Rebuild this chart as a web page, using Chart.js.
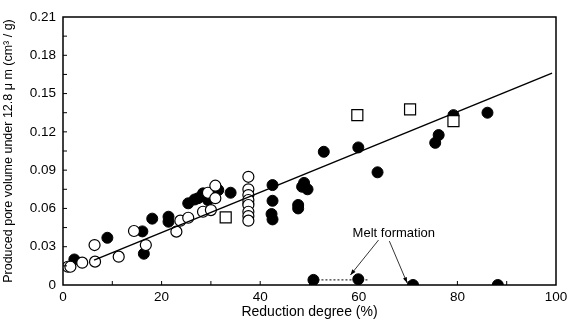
<!DOCTYPE html>
<html>
<head>
<meta charset="utf-8">
<script src="https://cdn.jsdelivr.net/npm/chart.js@4"></script>
<style>
  body { margin: 0; background: #fff; }
  #wrap { width: 568px; height: 325px; }
</style>
</head>
<body>
<div id="wrap"><canvas id="poreChart" width="568" height="325"></canvas></div>
<script>
// filled circles
const filledX = [2.3, 9.0, 16.1, 16.4, 18.1, 21.4, 21.4, 25.4, 26.7, 27.4, 28.4, 28.8, 29.4, 30.2, 31.1, 31.5, 34.0, 37.6,
  42.5, 42.5, 42.3, 42.5, 47.7, 47.7, 48.5, 48.9, 49.6, 52.9, 59.9, 63.8, 75.5, 76.2, 79.2, 86.1, 50.8, 59.9, 71.0, 88.2];
const filledY = [0.020, 0.037, 0.042, 0.0245, 0.052, 0.0535, 0.0496, 0.064, 0.067, 0.068, 0.0718, 0.070, 0.0666, 0.071, 0.0757, 0.0744, 0.0723, 0.064,
  0.0783, 0.066, 0.0556, 0.0514, 0.0627, 0.060, 0.077, 0.080, 0.075, 0.1044, 0.1078, 0.0883, 0.1114, 0.1175, 0.1331, 0.135, 0.004, 0.0045, 0, 0];
// open circles
const openX = [1.0, 1.5, 3.9, 6.4, 6.5, 11.3, 14.4, 16.8, 23.0, 23.8, 25.4, 28.4, 30.0, 29.4, 30.9, 30.9,
  37.6, 37.6, 37.6, 37.6, 37.6, 37.6, 37.6, 37.6];
const openY = [0.0143, 0.0143, 0.0175, 0.0313, 0.0183, 0.0222, 0.0423, 0.0313, 0.0418, 0.0504, 0.0527, 0.0574, 0.0587, 0.0723, 0.068, 0.0778,
  0.0848, 0.075, 0.0705, 0.0666, 0.0627, 0.0574, 0.054, 0.0504];
// open squares
const squareX = [33.0, 59.7, 70.4, 79.2];
const squareY = [0.053, 0.1331, 0.1376, 0.1284];
// regression line and melt dotted line
const fitX = [6.3, 99.2];
const fitY = [0.0195, 0.1660];
const meltX = [50.8, 62.0];
const meltY = [0.004, 0.004];
// annotation: text position and two arrows [x0, y0, x1, y1]
const meltLabel = 'Melt formation';
const meltLabelPos = [67.1, 0.0407];
const meltArrows = [[64.0, 0.0352, 58.3, 0.0078], [66.2, 0.0344, 69.8, 0.0016]];
// axes
const xTicks = [0, 20, 40, 60, 80, 100];
const yTicks = [0, 0.03, 0.06, 0.09, 0.12, 0.15, 0.18, 0.21];
const yTickLabels = ['0', '0.03', '0.06', '0.09', '0.12', '0.15', '0.18', '0.21'];

const FONT = '"Liberation Sans", Arial, sans-serif';

function pts(xs, ys) {
  return xs.map((x, i) => ({ x: x, y: ys[i] }));
}

const framePlugin = {
  id: 'frame',
  afterDatasetsDraw(chart) {
    const ctx = chart.ctx;
    const a = chart.chartArea;
    const xs = chart.scales.x, ys = chart.scales.y;
    ctx.save();
    ctx.strokeStyle = '#000';
    ctx.lineWidth = 1.5;
    ctx.strokeRect(a.left, a.top, a.right - a.left, a.bottom - a.top);
    ctx.lineWidth = 1;
    ctx.beginPath();
    for (let v = 10; v < 100; v += 10) {
      const px = xs.getPixelForValue(v);
      ctx.moveTo(px, a.bottom);
      ctx.lineTo(px, a.bottom - 4);
    }
    for (let k = 1; k < 14; k++) {
      const py = ys.getPixelForValue(k * 0.015);
      ctx.moveTo(a.left, py);
      ctx.lineTo(a.left + 4, py);
    }
    ctx.stroke();

    // annotation
    ctx.fillStyle = '#000';
    ctx.font = '13px ' + FONT;
    ctx.textAlign = 'center';
    ctx.textBaseline = 'middle';
    ctx.fillText(meltLabel, xs.getPixelForValue(meltLabelPos[0]), ys.getPixelForValue(meltLabelPos[1]));
    ctx.lineWidth = 0.8;
    meltArrows.forEach(r => {
      const x0 = xs.getPixelForValue(r[0]), y0 = ys.getPixelForValue(r[1]);
      const x1 = xs.getPixelForValue(r[2]), y1 = ys.getPixelForValue(r[3]);
      ctx.beginPath();
      ctx.moveTo(x0, y0);
      ctx.lineTo(x1, y1);
      ctx.stroke();
      const ang = Math.atan2(y1 - y0, x1 - x0);
      ctx.beginPath();
      ctx.moveTo(x1, y1);
      ctx.lineTo(x1 - 6 * Math.cos(ang - 0.35), y1 - 6 * Math.sin(ang - 0.35));
      ctx.lineTo(x1 - 6 * Math.cos(ang + 0.35), y1 - 6 * Math.sin(ang + 0.35));
      ctx.closePath();
      ctx.fill();
    });
    ctx.restore();
  }
};

new Chart(document.getElementById('poreChart'), {
  type: 'scatter',
  data: {
    datasets: [
      {
        label: 'fit',
        data: pts(fitX, fitY),
        showLine: true,
        borderColor: '#000',
        borderWidth: 1.5,
        pointRadius: 0,
        order: 1
      },
      {
        label: 'melt',
        data: pts(meltX, meltY),
        showLine: true,
        borderColor: '#000',
        borderWidth: 1,
        borderDash: [2, 2],
        pointRadius: 0,
        order: 5
      },
      {
        label: 'squares',
        data: pts(squareX, squareY),
        pointStyle: 'rect',
        pointRadius: 7.8,
        backgroundColor: '#fff',
        borderColor: '#000',
        borderWidth: 1.2,
        order: 2
      },
      {
        label: 'open',
        data: pts(openX, openY),
        pointStyle: 'circle',
        pointRadius: 5.5,
        backgroundColor: '#fff',
        borderColor: '#000',
        borderWidth: 1.2,
        order: 3
      },
      {
        label: 'filled',
        data: pts(filledX, filledY),
        pointStyle: 'circle',
        pointRadius: 5.5,
        backgroundColor: '#000',
        borderColor: '#000',
        borderWidth: 1,
        order: 4
      }
    ]
  },
  options: {
    responsive: false,
    animation: false,
    layout: { padding: { top: 17, right: 12, left: 0, bottom: 0 } },
    plugins: {
      legend: { display: false },
      tooltip: { enabled: false }
    },
    scales: {
      x: {
        type: 'linear',
        min: 0,
        max: 100,
        afterBuildTicks: s => { s.ticks = xTicks.map(v => ({ value: v })); },
        afterFit: s => { s.height = 40; s.paddingRight = 0; s.paddingLeft = 0; },
        grid: { display: false, drawTicks: false },
        border: { display: false },
        ticks: { color: '#000', font: { family: FONT, size: 13.5 }, padding: 4, maxRotation: 0 },
        title: { display: true, text: 'Reduction degree (%)', color: '#000', font: { family: FONT, size: 14 }, padding: { top: 0 } }
      },
      y: {
        type: 'linear',
        min: 0,
        max: 0.21,
        afterBuildTicks: s => { s.ticks = yTicks.map(v => ({ value: v })); },
        afterFit: s => { s.width = 63; s.paddingTop = 0; s.paddingBottom = 0; },
        grid: { display: false, drawTicks: false },
        border: { display: false },
        ticks: {
          color: '#000',
          font: { family: FONT, size: 13.5 },
          padding: 7,
          callback: (v) => yTickLabels[yTicks.indexOf(v)] ?? ''
        },
        title: { display: true, text: 'Produced pore volume under 12.8 \u03bc m (cm\u00b3 / g)', color: '#000', font: { family: FONT, size: 12.5 }, padding: { top: 1, bottom: 0 } }
      }
    }
  },
  plugins: [framePlugin]
});
</script>
</body>
</html>
